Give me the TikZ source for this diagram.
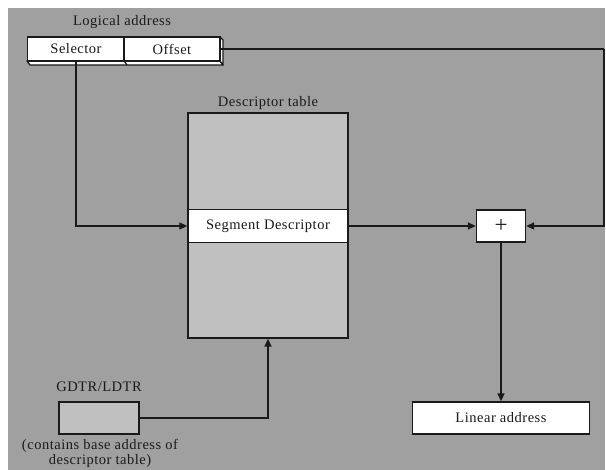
\documentclass[tikz,border=0pt]{standalone}
\usepackage{fontspec}
\setmainfont{Liberation Serif}[LetterSpace=3.5]
\usetikzlibrary{arrows.meta}
\definecolor{bggray}{HTML}{A0A0A0}
\definecolor{boxgray}{HTML}{C0C0C0}
\definecolor{ink}{HTML}{1A1A1A}
\begin{document}
\begin{tikzpicture}[x=1pt,y=-1pt,
  every node/.style={font=\fontsize{14.5}{17}\selectfont, text=ink},
  ln/.style={draw=ink, line width=1.3pt},
  arr/.style={ln, -{Triangle[length=8pt,width=7pt]}},
  wbox/.style={draw=ink, line width=1.3pt, fill=white, inner sep=0pt, rectangle},
  gbox/.style={draw=ink, line width=1.3pt, fill=boxgray, inner sep=0pt, rectangle},
  lbl/.style={inner sep=0pt}
]
\useasboundingbox (0,0) rectangle (606,470);
\fill[white] (0,0) rectangle (606,470);
\fill[bggray] (8,8) rectangle (605,470);

\coordinate (corner) at (604,49);
\node[lbl] (lalab) at (122,22) {Logical address};
\node[gbox, minimum width=160pt, minimum height=225pt] (dt) at (268,225.5) {};
\node[lbl] (dtlab) at (268,103) {Descriptor table};
\node[wbox, minimum width=160pt, minimum height=33pt] (seg) at (268,226) {Segment Descriptor};
\node[wbox, minimum width=49pt, minimum height=32pt] (plus) at (501,226) {\fontsize{23}{23}\selectfont +};
\node[wbox, minimum width=177pt, minimum height=32pt] (lin) at (501,418) {Linear address};
\node[lbl] (gdlab) at (99,387) {GDTR/LDTR};
\node[gbox, minimum width=80pt, minimum height=32pt] (gdtr) at (99,418) {};
\node[lbl, align=center] (cap) at (100,453) {(contains base address of\\[-2pt]descriptor table)};

% logical address register (3D bar)
\draw[ln, fill=white, line join=round] (27,61) -- (30,65) -- (223,65) -- (220,61) -- cycle;
\draw[ln, fill=white, line join=round] (220,37) -- (223,40) -- (223,65) -- (220,61) -- cycle;
\draw[ln] (124,61) -- (127,65);
\node[wbox, minimum width=97pt, minimum height=24pt] (sel) at (76,49) {Selector};
\node[wbox, minimum width=96pt, minimum height=24pt] (off) at (172,49) {Offset};

\draw[arr] (sel.south) |- (seg.west);
\draw[ln] (off.east) -- (223,49);
\draw[ln] (223,49) -- (corner);
\draw[arr] (corner) |- (plus.east);
\draw[arr] (seg.east) -- (plus.west);
\draw[arr] (plus.south) -- (lin.north);
\draw[arr] (gdtr.east) -| (dt.south);
\end{tikzpicture}
\end{document}
